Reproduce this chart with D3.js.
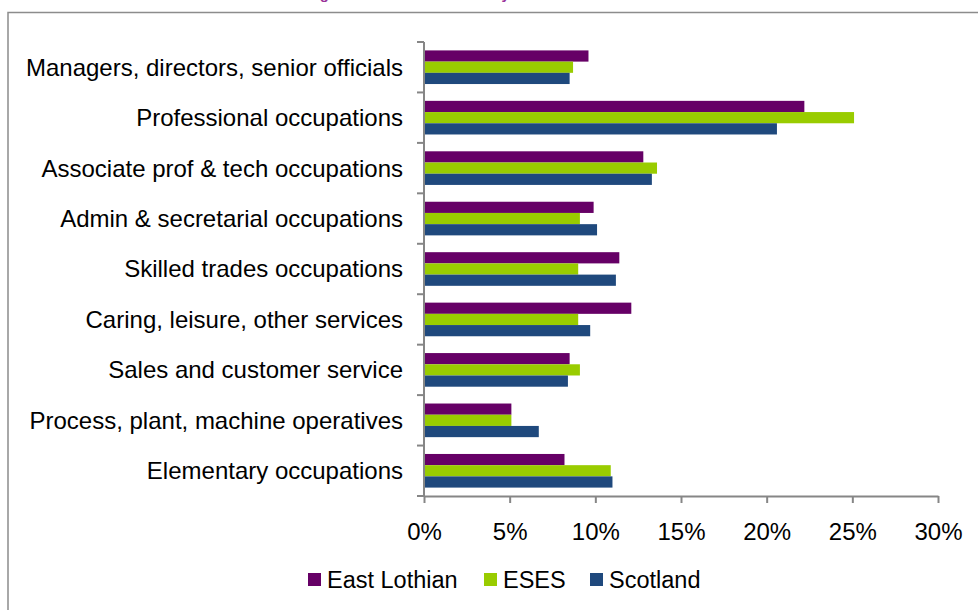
<!DOCTYPE html>
<html>
<head>
<meta charset="utf-8">
<script src="https://cdn.jsdelivr.net/npm/d3@7"></script>
<style>
  body { margin: 0; background: #fff; }
  text { font-family: "Liberation Sans", Arial, sans-serif; }
</style>
</head>
<body>
<div class="content"></div>
<script>
const SVG_W = 978;
const SVG_H = 610;

// data (percent of employment)
const occupations = [
  "Managers, directors, senior officials",
  "Professional occupations",
  "Associate prof & tech occupations",
  "Admin & secretarial occupations",
  "Skilled trades occupations",
  "Caring, leisure, other services",
  "Sales and customer service",
  "Process, plant, machine operatives",
  "Elementary occupations"
];
const seriesNames = ["East Lothian", "ESES", "Scotland"];
const eastLothian = [9.6, 22.2, 12.8, 9.9, 11.4, 12.1, 8.5, 5.1, 8.2];
const eses        = [8.7, 25.1, 13.6, 9.1, 9.0, 9.0, 9.1, 5.1, 10.9];
const scotland    = [8.5, 20.6, 13.3, 10.1, 11.2, 9.7, 8.4, 6.7, 11.0];
const xTicks = [0, 5, 10, 15, 20, 25, 30];
const colors = ["#660066", "#99cc00", "#1f497d"];

const svg = d3.select(".content").append("svg")
  .attr("width", SVG_W).attr("height", SVG_H);

// chart frame (runs off the bottom/right of the picture)
svg.append("rect")
  .attr("x", 8).attr("y", 12.5)
  .attr("width", 1000).attr("height", 700)
  .attr("fill", "none").attr("stroke", "#8c8c8c").attr("stroke-width", 1.5);

// title, mostly above the top edge as in the original
svg.append("text")
  .attr("x", 270).attr("y", -1)
  .style("font-size", "14.8px").style("font-weight", "bold")
  .attr("fill", "#993399")
  .text("Working residents in each area by SOC");

const x = d3.scaleLinear().domain([0, 30]).range([424, 938]);
const y = d3.scaleBand().domain(occupations).range([42, 496]);
const inner = d3.scaleBand().domain(seriesNames).range([0, y.bandwidth()]).paddingOuter(0.75);
const color = d3.scaleOrdinal().domain(seriesNames).range(colors);

let rows = occupations.map((o, i) => ({
  occ: o,
  vals: [
    {key: seriesNames[0], value: eastLothian[i]},
    {key: seriesNames[1], value: eses[i]},
    {key: seriesNames[2], value: scotland[i]}
  ]
}));

// bars
let groups = svg.append("g").selectAll(".occ")
  .data(rows).join("g").classed("occ", true)
  .attr("transform", d => "translate(0," + y(d.occ) + ")");
groups.selectAll("rect")
  .data(d => d.vals)
  .join("rect")
  .attr("x", x(0) + 1)
  .attr("y", d => inner(d.key))
  .attr("width", d => x(d.value) - x(0) - 1)
  .attr("height", inner.bandwidth())
  .attr("fill", d => color(d.key));

// x axis
let xaxis = svg.append("g").attr("transform", "translate(0,496)")
  .call(d3.axisBottom(x).tickValues(xTicks).tickSize(7).tickSizeOuter(0).tickFormat(d => d + "%"));
xaxis.select(".domain").attr("stroke", "#868686").attr("stroke-width", 2);
xaxis.selectAll(".tick line").attr("stroke", "#868686").attr("stroke-width", 2);
xaxis.selectAll(".tick text")
  .attr("y", 44).attr("dy", null)
  .style("font-size", "24px").attr("fill", "#000");

// y axis: ticks at category boundaries
let yaxis = svg.append("g").attr("transform", "translate(424,0)");
yaxis.append("line").attr("y1", 42).attr("y2", 496)
  .attr("stroke", "#868686").attr("stroke-width", 2);
yaxis.selectAll(".bound")
  .data(occupations.map(o => y(o)).concat([496]))
  .join("line").classed("bound", true)
  .attr("x1", -7).attr("x2", 0)
  .attr("y1", d => d).attr("y2", d => d)
  .attr("stroke", "#868686").attr("stroke-width", 2);

// category labels
svg.append("g").selectAll("text")
  .data(occupations).join("text")
  .attr("x", 403)
  .attr("y", d => y(d) + y.bandwidth() / 2)
  .attr("dy", "0.35em")
  .attr("text-anchor", "end")
  .style("font-size", "24px")
  .text(d => d);

// legend
const legendX = [308, 484, 590];
let legend = svg.append("g").selectAll(".leg")
  .data(seriesNames).join("g").classed("leg", true)
  .attr("transform", (d, i) => "translate(" + legendX[i] + ",573)");
legend.append("rect").attr("width", 13).attr("height", 13).attr("fill", d => color(d));
legend.append("text").attr("x", 19).attr("y", 6.5).attr("dy", "0.35em")
  .style("font-size", "23.5px").text(d => d);
</script>
</body>
</html>
